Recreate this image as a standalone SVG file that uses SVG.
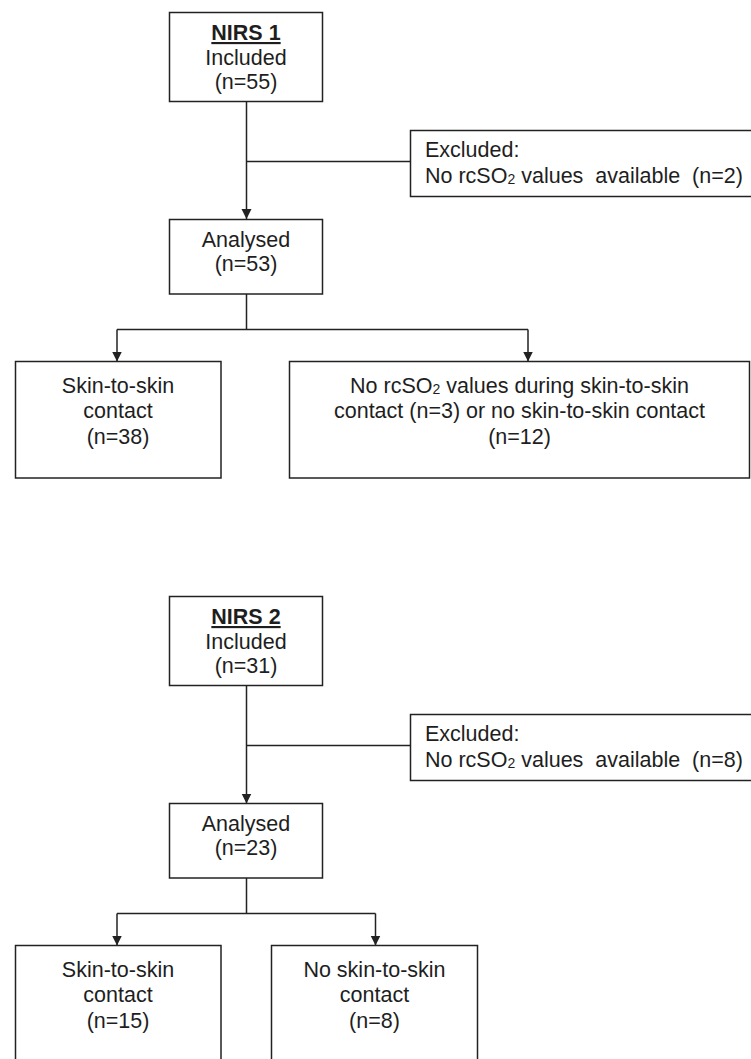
<svg xmlns="http://www.w3.org/2000/svg" width="751" height="1059" viewBox="0 0 751 1059">
<style>
.box{fill:#fff;stroke:#222;stroke-width:1.5}
.ln{fill:none;stroke:#222;stroke-width:1.5}
text{font-family:"Liberation Sans",Arial,sans-serif;font-size:21.5px;fill:#1e1e1e}
.c{text-anchor:middle}
.h{font-weight:bold;text-decoration:underline}
.sub{font-size:14px}
</style>
<defs>
<marker id="arr" markerUnits="userSpaceOnUse" markerWidth="11" markerHeight="11" refX="10" refY="5" orient="auto">
<path d="M0,0 L10,5 L0,10 z" fill="#222"/>
</marker>
</defs>
<rect width="751" height="1059" fill="#fff"/>
<g id="connectors">
<path class="ln" d="M246.5,101.5 V219" marker-end="url(#arr)"/>
<path class="ln" d="M246.5,161.5 H410"/>
<path class="ln" d="M246.5,294 V329.5 M117,329.5 H528"/>
<path class="ln" d="M117,329.5 V361.5" marker-end="url(#arr)"/>
<path class="ln" d="M528,329.5 V361.5" marker-end="url(#arr)"/>
<path class="ln" d="M246.5,685.5 V803.5" marker-end="url(#arr)"/>
<path class="ln" d="M246.5,745.5 H410"/>
<path class="ln" d="M246.5,878 V913.5 M117,913.5 H375.5"/>
<path class="ln" d="M117,913.5 V945.5" marker-end="url(#arr)"/>
<path class="ln" d="M375.5,913.5 V945.5" marker-end="url(#arr)"/>
</g>
<g id="nirs1">
<rect class="box" x="169.5" y="12.5" width="153" height="89"/>
<text class="c h" x="246" y="40">NIRS 1</text>
<text class="c" x="246" y="64.5">Included</text>
<text class="c" x="246" y="89">(n=55)</text>
</g>
<g id="excluded1">
<rect class="box" x="410.5" y="130.5" width="345" height="66"/>
<text x="425" y="156.5">Excluded:</text>
<text x="425" y="182.5" xml:space="preserve">No rcSO<tspan class="sub" dy="1">2</tspan><tspan dy="-1"> values  available  (n=2)</tspan></text>
</g>
<g id="analysed1">
<rect class="box" x="169.5" y="219.5" width="153" height="74.5"/>
<text class="c" x="246" y="246.5">Analysed</text>
<text class="c" x="246" y="271">(n=53)</text>
</g>
<g id="skin1">
<rect class="box" x="15.5" y="361.5" width="205.5" height="116.5"/>
<text class="c" x="118" y="392.5">Skin-to-skin</text>
<text class="c" x="118" y="418">contact</text>
<text class="c" x="118" y="444">(n=38)</text>
</g>
<g id="noskin1">
<rect class="box" x="289.5" y="361.5" width="460" height="116.5"/>
<text class="c" x="519.5" y="392.5">No rcSO<tspan class="sub" dy="1">2</tspan><tspan dy="-1"> values during skin-to-skin</tspan></text>
<text class="c" x="519.5" y="418">contact (n=3) or no skin-to-skin contact</text>
<text class="c" x="519.5" y="444">(n=12)</text>
</g>
<g id="nirs2">
<rect class="box" x="169.5" y="596.5" width="153" height="89"/>
<text class="c h" x="246" y="624">NIRS 2</text>
<text class="c" x="246" y="648.5">Included</text>
<text class="c" x="246" y="673">(n=31)</text>
</g>
<g id="excluded2">
<rect class="box" x="410.5" y="714.5" width="345" height="66"/>
<text x="425" y="740.5">Excluded:</text>
<text x="425" y="766.5" xml:space="preserve">No rcSO<tspan class="sub" dy="1">2</tspan><tspan dy="-1"> values  available  (n=8)</tspan></text>
</g>
<g id="analysed2">
<rect class="box" x="169.5" y="803.5" width="153" height="74.5"/>
<text class="c" x="246" y="830.5">Analysed</text>
<text class="c" x="246" y="855">(n=23)</text>
</g>
<g id="skin2">
<rect class="box" x="15.5" y="945.5" width="205.5" height="130"/>
<text class="c" x="118" y="976.5">Skin-to-skin</text>
<text class="c" x="118" y="1002">contact</text>
<text class="c" x="118" y="1028">(n=15)</text>
</g>
<g id="noskin2">
<rect class="box" x="271.5" y="945.5" width="206" height="130"/>
<text class="c" x="374.5" y="976.5">No skin-to-skin</text>
<text class="c" x="374.5" y="1002">contact</text>
<text class="c" x="374.5" y="1028">(n=8)</text>
</g>
</svg>
